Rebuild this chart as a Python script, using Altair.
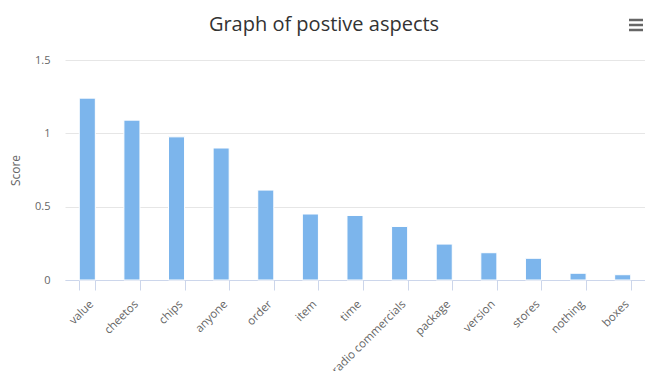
import altair as alt
import pandas as pd

# Bar chart of positive-aspect scores per term
terms = ["value", "cheetos", "chips", "anyone", "order", "item", "time",
         "radio commercials", "package", "version", "stores", "nothing", "boxes"]
scores = [1.24, 1.09, 0.976, 0.90, 0.613, 0.45, 0.44, 0.365, 0.245, 0.186,
          0.148, 0.046, 0.036]

df = pd.DataFrame({"term": terms, "score": scores})

FONT = "Open Sans"

bars = alt.Chart(df).mark_bar(
    color="#7cb5ec", stroke="#ffffff", strokeWidth=1
).encode(
    x=alt.X("term:N", sort=terms, title=None,
            scale=alt.Scale(paddingInner=0.64, paddingOuter=0.32),
            axis=alt.Axis(labelAngle=-45, labelColor="#666666", labelFontSize=11.5,
                          labelFont=FONT, domainColor="#ccd6eb", tickColor="#ccd6eb",
                          tickSize=10, tickBand="extent", labelPadding=8,
                          grid=False)),
    y=alt.Y("score:Q", title="Score",
            scale=alt.Scale(domain=[0, 1.5], nice=False),
            axis=alt.Axis(values=[0, 0.5, 1, 1.5], format="~g", labelColor="#666666",
                          labelFontSize=11, labelFont=FONT, labelPadding=15,
                          domain=False, ticks=False, gridColor="#e6e6e6",
                          titleColor="#666666", titleFont=FONT, titleFontSize=12,
                          titleFontWeight="normal", titlePadding=12)),
)

# Context-menu glyph in the top-right corner
menu_y = [0, 5, 10]
menu = alt.Chart(pd.DataFrame({"k": menu_y})).mark_rule(
    color="#666666", strokeWidth=2.5
).encode(
    x=alt.value(564), x2=alt.value(578),
    y=alt.Y("k:Q", scale=alt.Scale(domain=[0, 220], range=[-40, 180]), axis=None),
)

chart = alt.layer(bars, menu).resolve_scale(y="independent").properties(
    width=580, height=220,
    title=alt.TitleParams("Graph of postive aspects", fontSize=20, font=FONT,
                          fontWeight="normal", color="#333333", anchor="middle",
                          dx=-31, offset=-16),
    autosize=alt.AutoSizeParams(type="none"),
    padding={"left": 65, "top": 60, "right": 0, "bottom": 91},
).configure_view(stroke=None)

chart.save("out.html", embed_options={"renderer": "svg", "actions": False})
